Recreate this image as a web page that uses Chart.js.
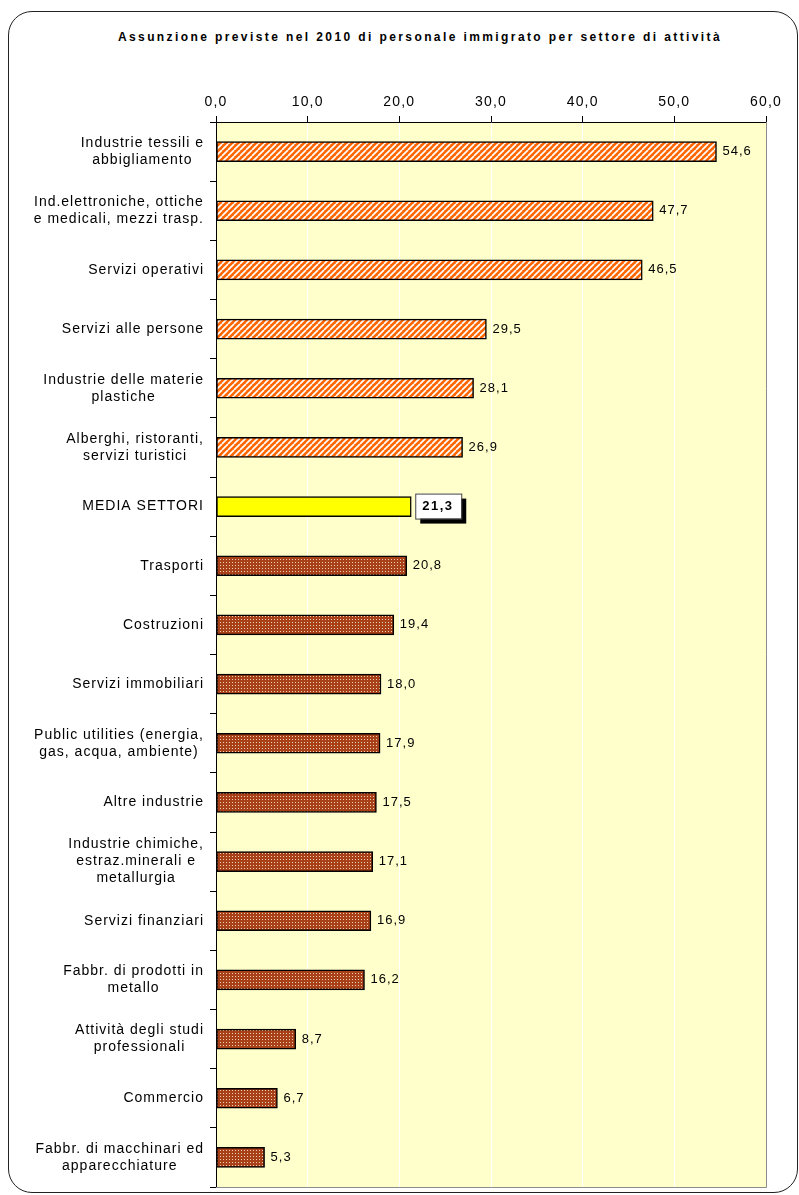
<!DOCTYPE html>
<html>
<head>
<meta charset="utf-8">
<script src="https://cdn.jsdelivr.net/npm/chart.js@4"></script>
<style>
    html, body { margin: 0; padding: 0; background: #fff; }
    #wrap { position: relative; width: 799px; height: 1195px; overflow: hidden; }
    #frame {
        position: absolute; left: 8px; top: 11px; width: 790px; height: 1182px;
        border: 1.5px solid #222; border-radius: 24px; box-sizing: border-box;
    }
    #title {
        position: absolute; left: 0; top: 30px; width: 840px; text-align: center;
        font: bold 12px "Liberation Sans", Arial, sans-serif; letter-spacing: 2.4px; color: #000;
    }
    #chart { position: absolute; left: 0; top: 0; }
</style>
</head>
<body>
<div id="wrap">
    <div id="frame"></div>
    <div id="title">Assunzione previste nel 2010 di personale immigrato per settore di attività</div>
    <canvas id="chart" width="799" height="1195"></canvas>
</div>
<script>
const settori = [
    ['Industrie tessili e', 'abbigliamento'],
    ['Ind.elettroniche, ottiche', 'e medicali, mezzi trasp.'],
    ['Servizi operativi'],
    ['Servizi alle persone'],
    ['Industrie delle materie', 'plastiche'],
    ['Alberghi, ristoranti,', 'servizi turistici'],
    ['MEDIA SETTORI'],
    ['Trasporti'],
    ['Costruzioni'],
    ['Servizi immobiliari'],
    ['Public utilities (energia,', 'gas, acqua, ambiente)'],
    ['Altre industrie'],
    ['Industrie chimiche,', 'estraz.minerali e', 'metallurgia'],
    ['Servizi finanziari'],
    ['Fabbr. di prodotti in', 'metallo'],
    ['Attività degli studi', 'professionali'],
    ['Commercio'],
    ['Fabbr. di macchinari ed', 'apparecchiature']
];
const quote = [54.6, 47.7, 46.5, 29.5, 28.1, 26.9, 21.3, 20.8, 19.4, 18.0, 17.9, 17.5, 17.1, 16.9, 16.2, 8.7, 6.7, 5.3];
const mediaIndex = 6;
const xMin = 0, xMax = 60, xStep = 10;

const fmt = v => v.toFixed(1).replace('.', ',');

// orange diagonal hatch for sectors above the average
function makeStripes() {
    const c = document.createElement('canvas');
    c.width = 6; c.height = 6;
    const g = c.getContext('2d');
    g.fillStyle = '#ff6600';
    g.fillRect(0, 0, 6, 6);
    g.strokeStyle = '#ffffff';
    g.lineWidth = 1.7;
    for (const o of [-6, 0, 6]) {
        g.beginPath();
        g.moveTo(o, 6);
        g.lineTo(o + 6, 0);
        g.stroke();
    }
    return g.createPattern(c, 'repeat');
}

// brown dotted fill for sectors below the average
function makeDots() {
    const c = document.createElement('canvas');
    c.width = 3; c.height = 3;
    const g = c.getContext('2d');
    g.fillStyle = '#a8401a';
    g.fillRect(0, 0, 3, 3);
    g.fillStyle = '#eed0b0';
    g.fillRect(1, 1, 1, 1);
    return g.createPattern(c, 'repeat');
}

const stripes = makeStripes();
const dots = makeDots();

const plotBackground = {
    id: 'plotBackground',
    beforeDraw(chart) {
        const { ctx, chartArea: a } = chart;
        ctx.save();
        ctx.fillStyle = '#ffffcc';
        ctx.fillRect(a.left, a.top, a.right - a.left, a.bottom - a.top);
        ctx.restore();
        // wider spacing for the axis tick labels drawn next
        ctx.letterSpacing = '1.2px';
    },
    afterDatasetsDraw(chart) {
        const { ctx, chartArea: a } = chart;
        ctx.save();
        ctx.strokeStyle = '#8c8c8c';
        ctx.lineWidth = 1;
        ctx.beginPath();
        ctx.moveTo(a.right + 0.5, a.top);
        ctx.lineTo(a.right + 0.5, a.bottom + 0.5);
        ctx.lineTo(a.left, a.bottom + 0.5);
        ctx.stroke();
        ctx.restore();
    }
};

// category labels: lines centred inside a right-aligned block
const sectorLabels = {
    id: 'sectorLabels',
    afterDraw(chart) {
        const { ctx } = chart;
        const yScale = chart.scales.y;
        ctx.save();
        ctx.font = '14px "Liberation Sans", Arial, sans-serif';
        ctx.letterSpacing = '1px';
        ctx.fillStyle = '#000';
        ctx.textAlign = 'center';
        ctx.textBaseline = 'middle';
        const right = 204;
        settori.forEach((lines, i) => {
            const y = yScale.getPixelForValue(i);
            const w = Math.max(...lines.map(l => ctx.measureText(l).width));
            const cx = right - w / 2;
            lines.forEach((l, k) => {
                ctx.fillText(l, cx, y + (k - (lines.length - 1) / 2) * 17);
            });
        });
        ctx.restore();
    }
};

// value labels at the end of each bar
const valueLabels = {
    id: 'valueLabels',
    afterDatasetsDraw(chart) {
        const { ctx } = chart;
        const meta = chart.getDatasetMeta(0);
        ctx.save();
        ctx.textBaseline = 'middle';
        ctx.textAlign = 'left';
        meta.data.forEach((bar, i) => {
            const text = fmt(quote[i]);
            if (i === mediaIndex) {
                ctx.font = 'bold 13px "Liberation Sans", Arial, sans-serif';
                ctx.letterSpacing = '1.5px';
                const bx = bar.x + 4, by = bar.y - 13, bw = 46, bh = 25;
                ctx.fillStyle = '#000';
                ctx.fillRect(bx + 5, by + 5, bw, bh);
                ctx.fillStyle = '#fff';
                ctx.fillRect(bx, by, bw, bh);
                ctx.strokeStyle = '#444';
                ctx.lineWidth = 1;
                ctx.strokeRect(bx + 0.5, by + 0.5, bw, bh);
                ctx.fillStyle = '#000';
                ctx.fillText(text, bx + 7, bar.y);
            } else {
                ctx.font = '13px "Liberation Sans", Arial, sans-serif';
                ctx.letterSpacing = '1px';
                ctx.fillStyle = '#000';
                ctx.fillText(text, bar.x + 6, bar.y);
            }
        });
        ctx.restore();
    }
};

const ctx = document.getElementById('chart').getContext('2d');
const chart = new Chart(ctx, {
    type: 'bar',
    data: {
        labels: settori,
        datasets: [
            {
                data: quote,
                backgroundColor: c => c.dataIndex < mediaIndex ? stripes : (c.dataIndex === mediaIndex ? '#ffff00' : dots),
                borderColor: '#000',
                borderWidth: 1.5,
                borderSkipped: false,
                barThickness: 20,
            }
        ]
    },
    plugins: [plotBackground, sectorLabels, valueLabels],
    options: {
        indexAxis: 'y',
        responsive: false,
        animation: false,
        layout: {
            padding: { left: 0, right: 33, top: 0, bottom: 8 }
        },
        scales: {
            x: {
                position: 'top',
                min: xMin,
                max: xMax,
                afterFit: s => { s.height = 122; },
                ticks: {
                    stepSize: xStep,
                    padding: 5,
                    color: '#000',
                    font: { family: '"Liberation Sans", Arial, sans-serif', size: 14 },
                    callback: v => fmt(v)
                },
                grid: {
                    color: '#ffffff',
                    tickColor: '#000',
                    tickLength: 6,
                    lineWidth: 1
                },
                border: { color: '#000', width: 1 }
            },
            y: {
                afterFit: s => { s.width = 216; },
                ticks: { display: false },
                grid: {
                    offset: true,
                    drawOnChartArea: false,
                    color: '#000',
                    tickLength: 6
                },
                border: { color: '#000', width: 1 }
            }
        },
        plugins: {
            legend: { display: false },
            title: { display: false },
            tooltip: { enabled: false }
        }
    }
});
window.chart = chart;
</script>
</body>
</html>
